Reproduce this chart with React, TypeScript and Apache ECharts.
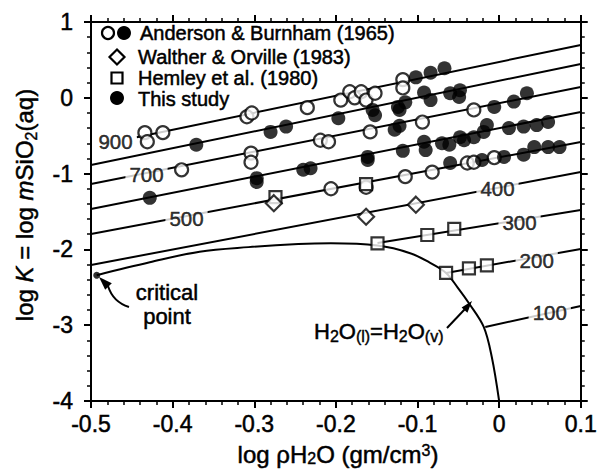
import React, { useEffect, useRef } from 'react';
import * as echarts from 'echarts';

const FONT = '"Liberation Sans", Arial, Helvetica, sans-serif';

// Isotherms (deg C): straight segments in log K vs log rho space
const isothermTemps = ['900', '800', '700', '600', '500', '400', '300', '200', '100'];
const isothermStart = [
  [-0.444, -0.52], [-0.5, -0.887], [-0.5, -1.137], [-0.5, -1.467], [-0.5, -1.797],
  [-0.5, -2.206], [-0.149, -1.916], [-0.065, -2.311], [-0.017, -3.024],
];
const isothermEnd = [
  [0.1, 0.697], [0.1, 0.446], [0.1, 0.142], [0.1, -0.187], [0.1, -0.583],
  [0.1, -0.979], [0.1, -1.48], [0.1, -1.995], [0.1, -2.747],
];

// Inline temperature labels placed on the isotherms
const labelTemps = ['900', '700', '500', '400', '300', '200', '100'];
const labelPos = [
  [-0.47, -0.57], [-0.432, -1.01], [-0.383, -1.586], [-0.002, -1.19],
  [0.025, -1.65], [0.046, -2.14], [0.062, -2.83],
];

// Liquid-vapour saturation curve of H2O, starting at the critical point
const saturationCurve = [
  [-0.493, -2.34], [-0.428, -2.17], [-0.367, -2.03], [-0.307, -1.97], [-0.246, -1.93],
  [-0.206, -1.92], [-0.149, -1.95], [-0.109, -2.05], [-0.084, -2.18], [-0.065, -2.31],
  [-0.051, -2.5], [-0.037, -2.71], [-0.019, -3.02], [-0.009, -3.42], [0.0, -4.0],
];
const criticalPoint = [[-0.493, -2.34]];

// Anderson & Burnham (1965), open symbols
const andersonOpen = [
  [-0.434, -0.46], [-0.431, -0.58], [-0.412, -0.46], [-0.309, -0.25], [-0.303, -0.2],
  [-0.235, -0.13], [-0.194, -0.03], [-0.183, 0.08], [-0.177, 0.0], [-0.169, 0.08],
  [-0.163, -0.03], [-0.152, 0.06], [-0.118, 0.24], [-0.118, 0.13],
  [-0.389, -0.95], [-0.304, -0.73], [-0.304, -0.85], [-0.219, -0.56], [-0.209, -0.58],
  [-0.158, -0.45], [-0.094, -0.32], [-0.031, -0.16],
  [-0.206, -1.2], [-0.163, -1.18], [-0.115, -1.04], [-0.082, -0.98], [-0.039, -0.86],
  [-0.031, -0.85], [-0.006, -0.79],
];

// Filled symbols
const filledPoints = [
  [-0.102, 0.27], [-0.084, 0.33], [-0.067, 0.39],
  [-0.371, -0.62], [-0.28, -0.45], [-0.261, -0.38], [-0.197, -0.27], [-0.155, -0.16],
  [-0.152, -0.23], [-0.124, -0.12], [-0.122, -0.16], [-0.115, -0.06], [-0.092, 0.07],
  [-0.084, -0.03], [-0.06, 0.06], [-0.049, 0.01], [-0.048, 0.1],
  [-0.128, -0.42], [-0.122, -0.37], [-0.006, -0.12], [0.018, -0.05], [0.034, 0.06],
  [-0.428, -1.32], [-0.297, -1.06], [-0.297, -1.11], [-0.24, -0.95], [-0.231, -0.93],
  [-0.161, -0.78], [-0.161, -0.82], [-0.118, -0.7], [-0.092, -0.58], [-0.09, -0.69],
  [-0.07, -0.6], [-0.061, -0.62], [-0.048, -0.52], [-0.043, -0.56], [-0.031, -0.52],
  [-0.019, -0.45], [-0.015, -0.36], [0.012, -0.4], [0.03, -0.38], [0.046, -0.36],
  [0.06, -0.32],
  [-0.06, -0.86], [-0.021, -0.82], [0.006, -0.78], [0.03, -0.75], [0.043, -0.65],
  [0.06, -0.65], [0.074, -0.65],
];

// Hemley et al. (1980)
const hemley = [
  [-0.274, -1.31], [-0.163, -1.14], [-0.149, -1.92], [-0.088, -1.81], [-0.055, -1.73],
  [-0.065, -2.31], [-0.037, -2.25], [-0.015, -2.21],
];

// Walther & Orville (1983)
const walther = [[-0.276, -1.39], [-0.163, -1.57], [-0.102, -1.41]];

const X_MIN = -0.5, X_MAX = 0.1, X_STEP = 0.1;
const Y_MIN = -4, Y_MAX = 1, Y_STEP = 1;

const black = '#000';
const heavy = { textBorderColor: black, textBorderWidth: 0.5 };

function axisBase(showLabels: boolean, isX: boolean) {
  return {
    type: 'value',
    min: isX ? X_MIN : Y_MIN,
    max: isX ? X_MAX : Y_MAX,
    interval: isX ? X_STEP : Y_STEP,
    axisLine: { show: true, onZero: false, lineStyle: { color: black, width: 2 } },
    axisTick: { show: true, inside: false, length: 7, lineStyle: { color: black, width: 2 } },
    minorTick: { show: true, splitNumber: 5, length: 4, lineStyle: { color: black, width: 1.5 } },
    splitLine: { show: false },
    minorSplitLine: { show: false },
    axisLabel: {
      show: showLabels,
      color: black,
      fontSize: 23,
      fontFamily: FONT,
      ...heavy,
      margin: isX ? 11 : 18,
      formatter: (v: number) => String(Math.round(v * 10) / 10),
    },
  };
}

export default function App() {
  const ref = useRef<HTMLDivElement>(null);

  useEffect(() => {
    document.body.style.margin = '0';
    if (!ref.current) return;
    const chart = echarts.init(ref.current, null, { renderer: 'svg' });

    const isothermSeries = isothermTemps.map((t, i) => ({
      name: 'T' + t,
      type: 'line',
      data: [isothermStart[i], isothermEnd[i]],
      symbol: 'none',
      silent: true,
      z: 2,
      lineStyle: { color: black, width: 2 },
    }));

    const txt = { fontFamily: FONT, fill: black, stroke: black, lineWidth: 0.5 };
    const sub = { fontFamily: FONT, fill: black, stroke: black, lineWidth: 0.4 };

    const option = {
      animation: false,
      backgroundColor: '#fff',
      grid: { left: 91, right: 15, top: 22, bottom: 68, containLabel: false },
      xAxis: [
        { ...axisBase(true, true), position: 'bottom' },
        { ...axisBase(false, true), position: 'top' },
      ],
      yAxis: [
        { ...axisBase(true, false), position: 'left' },
        { ...axisBase(false, false), position: 'right' },
      ],
      series: [
        ...isothermSeries,
        {
          name: 'saturation',
          type: 'line',
          data: saturationCurve,
          symbol: 'none',
          smooth: 0.35,
          silent: true,
          z: 2,
          lineStyle: { color: black, width: 2 },
        },
        {
          name: 'isotherm labels',
          type: 'scatter',
          data: labelPos.map((p, i) => ({ value: p, name: labelTemps[i] })),
          symbolSize: 0,
          silent: true,
          z: 4,
          label: {
            show: true,
            position: 'inside',
            formatter: (p: any) => p.name,
            color: black,
            fontSize: 20.5,
            fontFamily: FONT,
            ...heavy,
            backgroundColor: '#fff',
            padding: [1, 4],
          },
        },
        {
          name: 'Anderson & Burnham (1965)',
          type: 'scatter',
          data: andersonOpen,
          symbol: 'circle',
          symbolSize: 13,
          z: 5,
          itemStyle: { color: '#fff', borderColor: black, borderWidth: 2.2 },
        },
        {
          name: 'This study',
          type: 'scatter',
          data: filledPoints,
          symbol: 'circle',
          symbolSize: 14,
          z: 5,
          itemStyle: { color: black },
        },
        {
          name: 'Hemley et al. (1980)',
          type: 'scatter',
          data: hemley,
          symbol: 'rect',
          symbolSize: 12,
          z: 5,
          itemStyle: { color: '#fff', borderColor: black, borderWidth: 2.2 },
        },
        {
          name: 'Walther & Orville (1983)',
          type: 'scatter',
          data: walther,
          symbol: 'diamond',
          symbolSize: 16,
          z: 5,
          itemStyle: { color: '#fff', borderColor: black, borderWidth: 2.2 },
        },
        {
          name: 'critical point',
          type: 'scatter',
          data: criticalPoint,
          symbol: 'circle',
          symbolSize: 7,
          z: 5,
          itemStyle: { color: black },
        },
      ],
      graphic: [
        // legend
        { type: 'circle', shape: { cx: 108, cy: 33, r: 6 }, style: { fill: '#fff', stroke: black, lineWidth: 2.2 }, z: 10 },
        { type: 'circle', shape: { cx: 124, cy: 33, r: 7 }, style: { fill: black }, z: 10 },
        { type: 'text', x: 140, y: 33, style: { ...txt, text: 'Anderson & Burnham (1965)', fontSize: 20, verticalAlign: 'middle' }, z: 10 },
        { type: 'polygon', shape: { points: [[117, 49.5], [124.5, 57], [117, 64.5], [109.5, 57]] }, style: { fill: '#fff', stroke: black, lineWidth: 2.2 }, z: 10 },
        { type: 'text', x: 138, y: 57, style: { ...txt, text: 'Walther & Orville (1983)', fontSize: 20, verticalAlign: 'middle' }, z: 10 },
        { type: 'rect', shape: { x: 111.5, y: 72.5, width: 11, height: 11 }, style: { fill: '#fff', stroke: black, lineWidth: 2.2 }, z: 10 },
        { type: 'text', x: 138, y: 78, style: { ...txt, text: 'Hemley et al. (1980)', fontSize: 20, verticalAlign: 'middle' }, z: 10 },
        { type: 'circle', shape: { cx: 117, cy: 98, r: 7 }, style: { fill: black }, z: 10 },
        { type: 'text', x: 138, y: 99, style: { ...txt, text: 'This study', fontSize: 20, verticalAlign: 'middle' }, z: 10 },

        // critical point annotation
        { type: 'text', x: 167, y: 292, style: { ...txt, text: 'critical', fontSize: 22, align: 'center', verticalAlign: 'middle' }, z: 10 },
        { type: 'text', x: 167, y: 316, style: { ...txt, text: 'point', fontSize: 22, align: 'center', verticalAlign: 'middle' }, z: 10 },
        { type: 'bezierCurve', shape: { x1: 129, y1: 307, x2: 108, y2: 286, cpx1: 113, cpy1: 302 }, style: { stroke: black, lineWidth: 2, fill: 'none' }, z: 10 },
        { type: 'polygon', shape: { points: [[99, 277], [111.8, 283.2], [105.2, 289.8]] }, style: { fill: black }, z: 10 },

        // saturation curve annotation
        {
          type: 'text', x: 314, y: 331, z: 10,
          style: {
            ...txt,
            text: 'H{s|2}O{s|(l)}=H{s|2}O{s|(v)}',
            fontSize: 22,
            lineHeight: 27,
            verticalAlign: 'middle',
            rich: {
              s: { ...sub, fontSize: 16, lineHeight: 16, verticalAlign: 'bottom' },
            },
          },
        },
        { type: 'line', shape: { x1: 447, y1: 328, x2: 465, y2: 309 }, style: { stroke: black, lineWidth: 2 }, z: 10 },
        { type: 'polygon', shape: { points: [[472, 301], [467.4, 312.8], [461.6, 307.4]] }, style: { fill: black }, z: 10 },

        // x axis title
        {
          type: 'text', x: 338, y: 454, z: 10,
          style: {
            ...txt,
            text: 'log ρH{s|2}O (gm/cm{p|3})',
            fontSize: 24,
            lineHeight: 24,
            align: 'center',
            verticalAlign: 'middle',
            rich: {
              s: { ...sub, fontSize: 16, lineHeight: 14, verticalAlign: 'bottom' },
              p: { ...sub, fontSize: 16, lineHeight: 14, verticalAlign: 'top' },
            },
          },
        },
        // y axis title
        {
          type: 'text', x: 24, y: 205, rotation: Math.PI / 2, z: 10,
          style: {
            ...txt,
            text: 'log {i|K} = log {i|m}SiO{s|2}(aq)',
            fontSize: 24,
            lineHeight: 30,
            align: 'center',
            verticalAlign: 'middle',
            rich: {
              i: { ...txt, fontSize: 24, fontStyle: 'italic' },
              s: { ...sub, fontSize: 16, lineHeight: 16, verticalAlign: 'bottom' },
            },
          },
        },
      ],
    };

    chart.setOption(option as any);
    return () => chart.dispose();
  }, []);

  return <div ref={ref} style={{ width: 600, height: 469 }} />;
}
